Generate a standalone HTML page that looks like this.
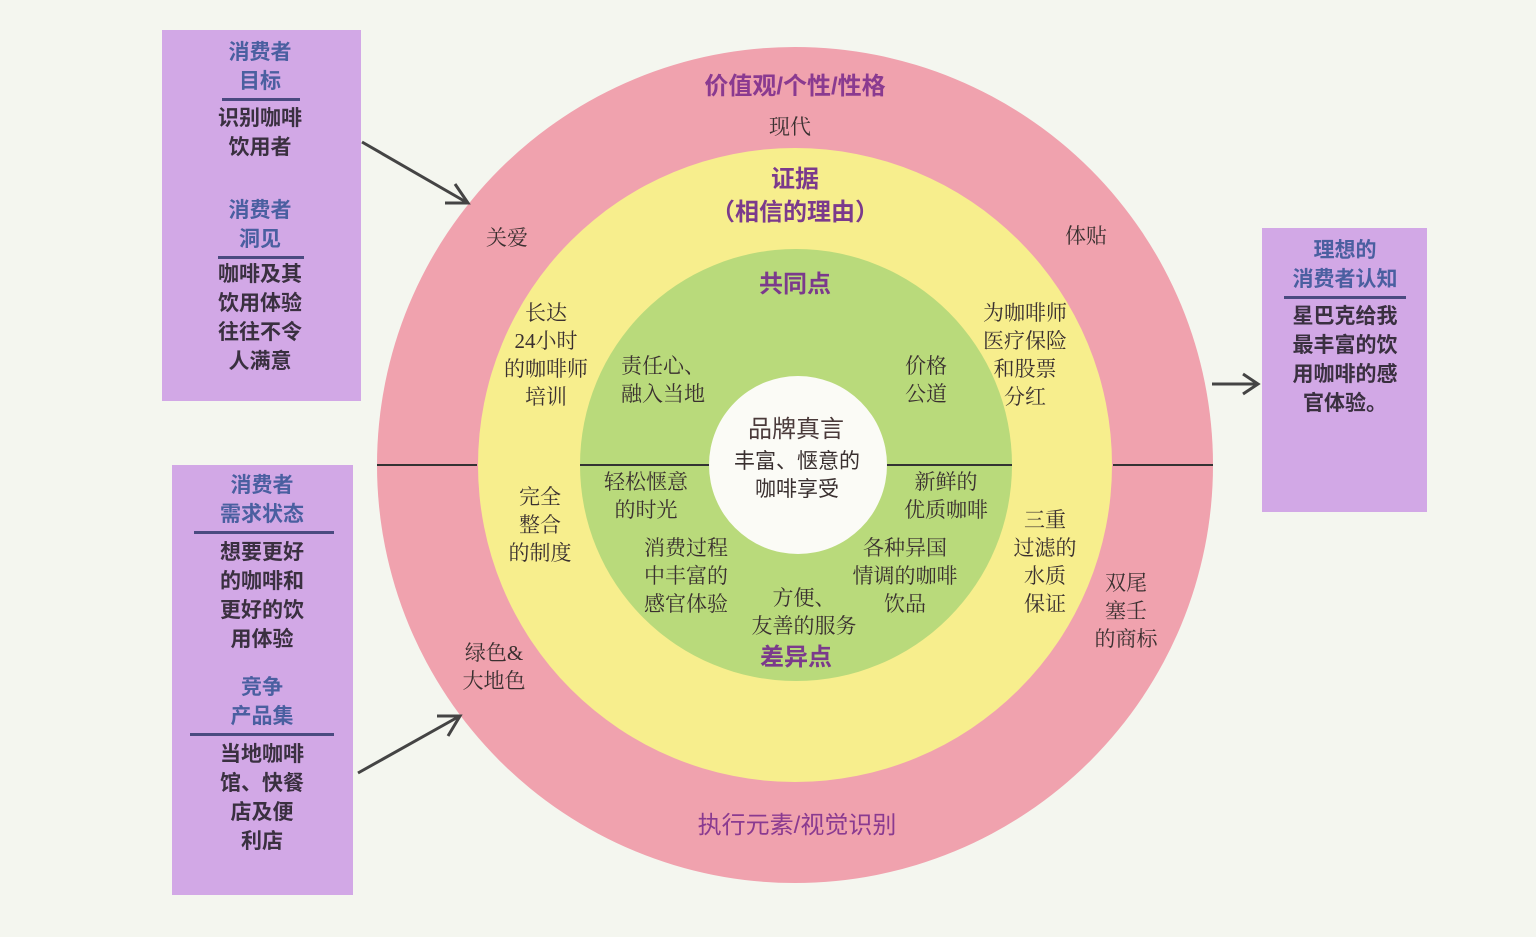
<!DOCTYPE html>
<html><head><meta charset="utf-8"><style>
body{margin:0;width:1536px;height:937px;background:#f4f6ef;position:relative;overflow:hidden;font-family:"Liberation Sans","Noto Sans CJK SC",sans-serif;}
.c{position:absolute;border-radius:50%;}
.t{position:absolute;transform:translate(-50%,-50%);text-align:center;white-space:nowrap;color:#3a3030;font-family:"Liberation Serif","Noto Serif CJK SC",serif;font-size:21px;line-height:28px;}
.h{font-family:"Liberation Sans","Noto Sans CJK SC",sans-serif;color:#7b3a8c;font-size:24px;font-weight:bold;line-height:32px;}
.box{position:absolute;background:#d2a8e6;}
.b{position:absolute;transform:translateX(-50%);text-align:center;white-space:nowrap;font-size:21px;line-height:29px;color:#3a3040;font-weight:bold;}
.bh{color:#4a5fa0;}
.ln{position:absolute;height:3px;background:#4a4a80;}
.hl{position:absolute;height:2px;background:#333;}
</style></head><body>
<div class="c" style="left:377px;top:47px;width:836px;height:836px;background:#f0a2ae"></div>
<div class="c" style="left:478px;top:148px;width:634px;height:634px;background:#f7ee8d"></div>
<div class="c" style="left:580px;top:249px;width:432px;height:432px;background:#b9da7b"></div>
<div class="hl" style="left:377px;top:464px;width:100px"></div>
<div class="hl" style="left:580px;top:464px;width:432px"></div>
<div class="hl" style="left:1113px;top:464px;width:100px"></div>
<div class="c" style="left:709px;top:376px;width:178px;height:178px;background:#fbfbf6"></div>

<div class="t h" style="left:795px;top:87px;color:#8a3a90">价值观/个性/性格</div>
<div class="t" style="left:790px;top:127px">现代</div>
<div class="t h" style="left:795px;top:180px">证据</div>
<div class="t h" style="left:795px;top:213px">（相信的理由）</div>
<div class="t" style="left:507px;top:238px">关爱</div>
<div class="t" style="left:1086px;top:236px">体贴</div>
<div class="t h" style="left:795px;top:285px">共同点</div>
<div class="t" style="left:546px;top:355px">长达<br>24小时<br>的咖啡师<br>培训</div>
<div class="t" style="left:663px;top:380px">责任心、<br>融入当地</div>
<div class="t" style="left:926px;top:380px">价格<br>公道</div>
<div class="t" style="left:1025px;top:355px">为咖啡师<br>医疗保险<br>和股票<br>分红</div>
<div class="t h" style="left:796px;top:430px;color:#4a3a3a;font-weight:normal">品牌真言</div>
<div class="t" style="left:797px;top:476px;font-family:'Liberation Sans','Noto Sans CJK SC',sans-serif">丰富、惬意的<br>咖啡享受</div>
<div class="t" style="left:646px;top:496px">轻松惬意<br>的时光</div>
<div class="t" style="left:946px;top:496px">新鲜的<br>优质咖啡</div>
<div class="t" style="left:540px;top:525px">完全<br>整合<br>的制度</div>
<div class="t" style="left:1045px;top:562px">三重<br>过滤的<br>水质<br>保证</div>
<div class="t" style="left:686px;top:576px">消费过程<br>中丰富的<br>感官体验</div>
<div class="t" style="left:905px;top:576px">各种异国<br>情调的咖啡<br>饮品</div>
<div class="t" style="left:804px;top:612px">方便、<br>友善的服务</div>
<div class="t" style="left:1126px;top:611px">双尾<br>塞壬<br>的商标</div>
<div class="t h" style="left:796px;top:658px">差异点</div>
<div class="t" style="left:494px;top:667px">绿色&amp;<br>大地色</div>
<div class="t h" style="left:797px;top:826px;color:#8a3a90;font-weight:normal">执行元素/视觉识别</div>

<div class="box" style="left:162px;top:30px;width:199px;height:371px"></div>
<div class="b bh" style="left:260px;top:38px">消费者<br>目标</div>
<div class="ln" style="left:222px;top:98px;width:78px"></div>
<div class="b" style="left:260px;top:104px">识别咖啡<br>饮用者</div>
<div class="b bh" style="left:260px;top:196px">消费者<br>洞见</div>
<div class="ln" style="left:218px;top:256px;width:86px"></div>
<div class="b" style="left:260px;top:260px">咖啡及其<br>饮用体验<br>往往不令<br>人满意</div>

<div class="box" style="left:172px;top:465px;width:181px;height:430px"></div>
<div class="b bh" style="left:262px;top:471px">消费者<br>需求状态</div>
<div class="ln" style="left:194px;top:531px;width:140px"></div>
<div class="b" style="left:262px;top:538px">想要更好<br>的咖啡和<br>更好的饮<br>用体验</div>
<div class="b bh" style="left:262px;top:673px">竞争<br>产品集</div>
<div class="ln" style="left:190px;top:733px;width:144px"></div>
<div class="b" style="left:262px;top:740px">当地咖啡<br>馆、快餐<br>店及便<br>利店</div>

<div class="box" style="left:1262px;top:228px;width:165px;height:284px"></div>
<div class="b bh" style="left:1345px;top:236px">理想的<br>消费者认知</div>
<div class="ln" style="left:1284px;top:296px;width:122px"></div>
<div class="b" style="left:1345px;top:302px">星巴克给我<br>最丰富的饮<br>用咖啡的感<br>官体验。</div>

<svg style="position:absolute;left:0;top:0" width="1536" height="937">
<g stroke="#444" stroke-width="3" fill="none">
<line x1="362" y1="142" x2="466" y2="202"/><polyline points="445,203 468,203 455,184"/>
<line x1="358" y1="773" x2="458" y2="717"/><polyline points="437,716 460,716 448,736"/>
<line x1="1212" y1="384" x2="1256" y2="384"/><polyline points="1243,374 1258,384 1243,394"/>
</g></svg>
</body></html>
